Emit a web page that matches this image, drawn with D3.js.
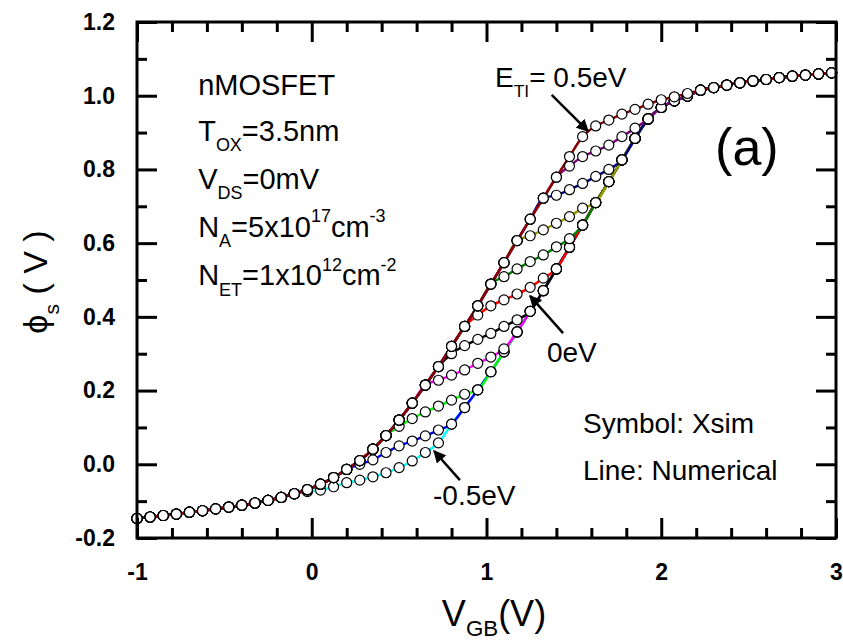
<!DOCTYPE html>
<html>
<head>
<meta charset="utf-8">
<script src="https://cdn.jsdelivr.net/npm/d3@7"></script>
<style>
body { margin: 0; background: #fff; }
svg { display: block; font-family: Arial, "Liberation Sans", sans-serif; }
</style>
</head>
<body>
<div class="chart"></div>
<script>
// gate bias grid (V), shared by every curve
const vgb = [-1.000,-0.925,-0.850,-0.775,-0.700,-0.625,-0.550,-0.475,-0.400,-0.325,
  -0.250,-0.175,-0.100,-0.025,0.050,0.125,0.200,0.275,0.350,0.425,
  0.500,0.575,0.650,0.725,0.800,0.875,0.950,1.025,1.100,1.175,
  1.250,1.325,1.400,1.475,1.550,1.625,1.700,1.775,1.850,1.925,
  2.000,2.075,2.150,2.225,2.300,2.375,2.450,2.525,2.600,2.675,
  2.750,2.825,2.900,2.975];

// left branch: all curves sit on it before their traps start filling (grid points 0..33)
const phiLeft = [-0.147,-0.143,-0.139,-0.135,-0.130,-0.126,-0.121,-0.116,-0.111,-0.105,
  -0.098,-0.090,-0.080,-0.069,-0.054,-0.036,-0.014,0.010,0.041,0.078,
  0.120,0.166,0.215,0.265,0.320,0.374,0.430,0.489,0.547,0.607,
  0.665,0.722,0.779,0.835];

// right branch: all curves sit on it once their traps are full (grid points 23..53)
const phiRight = [0.058,0.109,0.154,0.202,0.251,0.305,0.359,0.415,0.471,0.530,
  0.589,0.649,0.710,0.767,0.826,0.884,0.937,0.968,0.986,0.999,
  1.015,1.022,1.029,1.035,1.040,1.044,1.049,1.053,1.056,1.059,1.062];
const rightStart = 23;

// trap level of each curve (eV), where it leaves the left branch, and its own points until it joins the right one
const trapLevels = ["0.5","0.4","0.3","0.2","0.1","0","-0.1","-0.2","-0.3","-0.4","-0.5"];
const branchIdx = [33,32,31,29,27,25,23,22,19,16,12];
const phiMid = [
  [0.889,0.918,0.934,0.950,0.963,0.977,0.989,0.997,1.006],
  [0.809,0.835,0.850,0.866,0.889,0.912],
  [0.730,0.745,0.762,0.781,0.800],
  [0.620,0.636,0.654,0.672,0.695],
  [0.509,0.530,0.550,0.568,0.590,0.612],
  [0.405,0.430,0.446,0.462,0.480,0.505],
  [0.300,0.322,0.339,0.355,0.374,0.392],
  [0.228,0.242,0.256,0.274,0.291,0.313],
  [0.103,0.124,0.142,0.158,0.174,0.190],
  [0.000,0.012,0.032,0.050,0.063,0.077,0.093],
  [-0.074,-0.070,-0.061,-0.050,-0.043,-0.034,-0.023,-0.009,0.009,0.032]
];
const lineColors = ["#8b0000","#800080","#000080","#999900","#008000","#ff0000",
  "#000000","#ff00ff","#00ff00","#0000ff","#00ffff"];

// ticks
const xTicks = [-1,0,1,2,3];
const xMinor = [-0.8,-0.6,-0.4,-0.2,0.2,0.4,0.6,0.8,1.2,1.4,1.6,1.8,2.2,2.4,2.6,2.8];
const yTicks = [-0.2,0.0,0.2,0.4,0.6,0.8,1.0,1.2];
const yMinor = [-0.1,0.1,0.3,0.5,0.7,0.9,1.1];

const W = 843, H = 643;
const margin = {left: 137, right: 7, top: 22, bottom: 105};
const w = W - margin.left - margin.right;
const h = H - margin.top - margin.bottom;

const svg = d3.select(".chart").append("svg")
  .attr("width", W).attr("height", H);
const g = svg.append("g").attr("transform", `translate(${margin.left},${margin.top})`);

const x = d3.scaleLinear().domain([-1, 3]).range([0, w]);
const y = d3.scaleLinear().domain([-0.2, 1.2]).range([h, 0]);

// build every curve from the shared branches + its own middle part
const curves = trapLevels.map(function(e, k) {
  var pts = [];
  var b = branchIdx[k];
  for (var i = 0; i <= b; i++) pts.push([vgb[i], phiLeft[i]]);
  phiMid[k].forEach(function(v, m) { pts.push([vgb[b + 1 + m], v]); });
  for (var i = b + 1 + phiMid[k].length; i < vgb.length; i++) pts.push([vgb[i], phiRight[i - rightStart]]);
  return {e: e, color: lineColors[k], pts: pts};
});

const line = d3.line()
  .x(d => x(d[0]))
  .y(d => y(d[1]))
  .curve(d3.curveMonotoneX);

const order = curves.slice().reverse(); // 0.5eV ends up on top
g.selectAll(".num")
  .data(order)
  .enter().append("path")
  .attr("class", "num")
  .attr("d", d => line(d.pts))
  .attr("fill", "none")
  .attr("stroke", d => d.color)
  .attr("stroke-width", 2.5);

order.forEach(function(c) {
  g.append("g").selectAll("circle")
    .data(c.pts)
    .enter().append("circle")
    .attr("cx", d => x(d[0]))
    .attr("cy", d => y(d[1]))
    .attr("r", 5)
    .attr("fill", "#fff")
    .attr("stroke", "#000")
    .attr("stroke-width", 1.2);
});

// axes, ticks pointing inward
function styleAxis(sel) {
  sel.select(".domain").remove();
  sel.selectAll(".tick line").attr("stroke", "#000").attr("stroke-width", 3);
  sel.selectAll("text").attr("fill", "#000").attr("font-size", "23px").attr("font-weight", "bold");
}
g.append("g").attr("transform", `translate(0,${h})`)
  .call(d3.axisBottom(x).tickValues(xTicks).tickSize(-20).tickPadding(26).tickFormat(d => String(d)))
  .call(styleAxis);
g.append("g").attr("transform", `translate(0,${h})`)
  .call(d3.axisBottom(x).tickValues(xMinor).tickSize(-10).tickFormat(""))
  .call(styleAxis);
g.append("g")
  .call(d3.axisTop(x).tickValues(xTicks).tickSize(-20).tickFormat(""))
  .call(styleAxis);
g.append("g")
  .call(d3.axisTop(x).tickValues(xMinor).tickSize(-10).tickFormat(""))
  .call(styleAxis);
g.append("g")
  .call(d3.axisLeft(y).tickValues(yTicks).tickSize(-20).tickPadding(22).tickFormat(d => d.toFixed(1)))
  .call(styleAxis);
g.append("g")
  .call(d3.axisLeft(y).tickValues(yMinor).tickSize(-10).tickFormat(""))
  .call(styleAxis);
g.append("g").attr("transform", `translate(${w},0)`)
  .call(d3.axisRight(y).tickValues(yTicks).tickSize(-20).tickFormat(""))
  .call(styleAxis);
g.append("g").attr("transform", `translate(${w},0)`)
  .call(d3.axisRight(y).tickValues(yMinor).tickSize(-10).tickFormat(""))
  .call(styleAxis);

g.append("rect")
  .attr("width", w).attr("height", h)
  .attr("fill", "none").attr("stroke", "#000").attr("stroke-width", 3);

// text with sub/superscripts: parts = [[text, 0 | -1 sub | 1 sup], ...]
function rich(parent, px, py, parts, size, anchor, subDrop) {
  var t = parent.append("text")
    .attr("x", px).attr("y", py)
    .attr("font-size", size + "px")
    .attr("text-anchor", anchor || "start")
    .attr("fill", "#000");
  var shift = 0;
  parts.forEach(function(p) {
    var target = p[1] == -1 ? size * (subDrop || 0.36) : (p[1] == 1 ? -size * 0.5 : 0);
    t.append("tspan")
      .attr("dy", target - shift)
      .attr("font-size", (p[1] == 0 ? size : size * 0.62) + "px")
      .text(p[0]);
    shift = target;
  });
  return t;
}

// axis titles
rich(svg, 494, 626, [["V",0],["GB",-1],["(V)",0]], 36, "middle", 0.27);
rich(svg.append("g").attr("transform", "translate(47,282) rotate(-90)"), 0, 0,
  [["\u03D5",0],["s",-1],[" ( V )",0]], 34, "middle");

// parameter block
const tx = x(-0.65);
rich(g, tx, y(1.002), [["nMOSFET",0]], 29);
rich(g, tx, y(0.877), [["T",0],["OX",-1],["=3.5nm",0]], 29);
rich(g, tx, y(0.747), [["V",0],["DS",-1],["=0mV",0]], 29);
rich(g, tx, y(0.617), [["N",0],["A",-1],["=5x10",0],["17",1],["cm",0],["-3",1]], 29);
rich(g, tx, y(0.486), [["N",0],["ET",-1],["=1x10",0],["12",1],["cm",0],["-2",1]], 29);

rich(g, x(1.049), y(1.024), [["E",0],["TI",-1],["= 0.5eV",0]], 28);
rich(g, x(1.346), y(0.278), [["0eV",0]], 28);
rich(g, x(0.694), y(-0.110), [["-0.5eV",0]], 28);
rich(g, x(2.308), y(0.812), [["(a)",0]], 52);
rich(g, x(1.552), y(0.085), [["Symbol: Xsim",0]], 28);
rich(g, x(1.552), y(-0.043), [["Line: Numerical",0]], 28);

// arrows
svg.append("defs").append("marker")
  .attr("id", "head").attr("viewBox", "0 0 10 10")
  .attr("refX", 9).attr("refY", 5)
  .attr("markerWidth", 5).attr("markerHeight", 5)
  .attr("orient", "auto")
  .append("path").attr("d", "M0,0L10,5L0,10z").attr("fill", "#000");
const arrows = [
  [[1.373,1.002],[1.581,0.904]],
  [[1.438,0.356],[1.249,0.457]],
  [[0.848,-0.043],[0.700,0.036]]
];
g.selectAll(".arrow")
  .data(arrows)
  .enter().append("line")
  .attr("x1", d => x(d[0][0])).attr("y1", d => y(d[0][1]))
  .attr("x2", d => x(d[1][0])).attr("y2", d => y(d[1][1]))
  .attr("stroke", "#000").attr("stroke-width", 2.5)
  .attr("marker-end", "url(#head)");
</script>
</body>
</html>
